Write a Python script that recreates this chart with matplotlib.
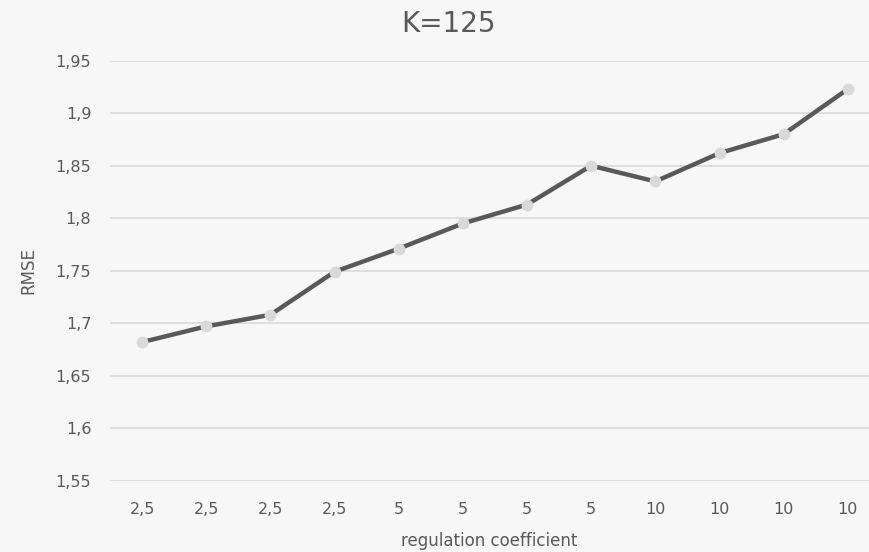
import matplotlib
matplotlib.use("Agg")
import matplotlib.pyplot as plt
import matplotlib.ticker as ticker

# RMSE for each run, grouped by regulation coefficient
coef_labels = ["2,5", "2,5", "2,5", "2,5", "5", "5", "5", "5", "10", "10", "10", "10"]
rmse = [1.682, 1.697, 1.708, 1.749, 1.771, 1.795, 1.813, 1.850,
        1.835, 1.862, 1.880, 1.923]

BG = "#f7f7f7"
TXT = "#595959"

plt.rcParams['font.family'] = ['DejaVu Sans']

fig = plt.figure(figsize=(8.69, 5.52), dpi=100, facecolor=BG)
ax = fig.add_axes([110/869, 1 - 480.7/552, 759/869, 420/552], facecolor=BG)

x = list(range(len(rmse)))
ax.plot(x, rmse, color=TXT, lw=3.2, marker='o', ms=7.5,
        markerfacecolor="#d9d9d9", markeredgecolor="#d9d9d9", zorder=3)

ax.set_xlim(-0.5, 11.33)
ax.set_ylim(1.55, 1.95)
ax.yaxis.set_major_locator(ticker.MultipleLocator(0.05))
ax.yaxis.set_major_formatter(ticker.FuncFormatter(lambda v, p: ("%g" % round(v, 2)).replace('.', ',')))
ax.set_xticks(x)
ax.set_xticklabels(coef_labels)

ax.grid(axis='y', color="#d9d9d9", lw=1.2)
ax.set_axisbelow(True)
for s in ax.spines.values():
    s.set_visible(False)
ax.tick_params(axis='both', length=0, colors=TXT, labelsize=11.5)
ax.tick_params(axis='x', pad=15)
ax.tick_params(axis='y', pad=13.5)

# title is centred on the whole chart, not the plot area
fig.text(448/869, 1 - 24/552, "K=125", fontsize=20, color=TXT,
         ha='center', va='center')
ax.set_ylabel("RMSE", fontsize=12, color=TXT, labelpad=13)
ax.set_xlabel("regulation coefficient", fontsize=12, color=TXT, labelpad=11)

fig.savefig("out.png", dpi=100, facecolor=BG)
